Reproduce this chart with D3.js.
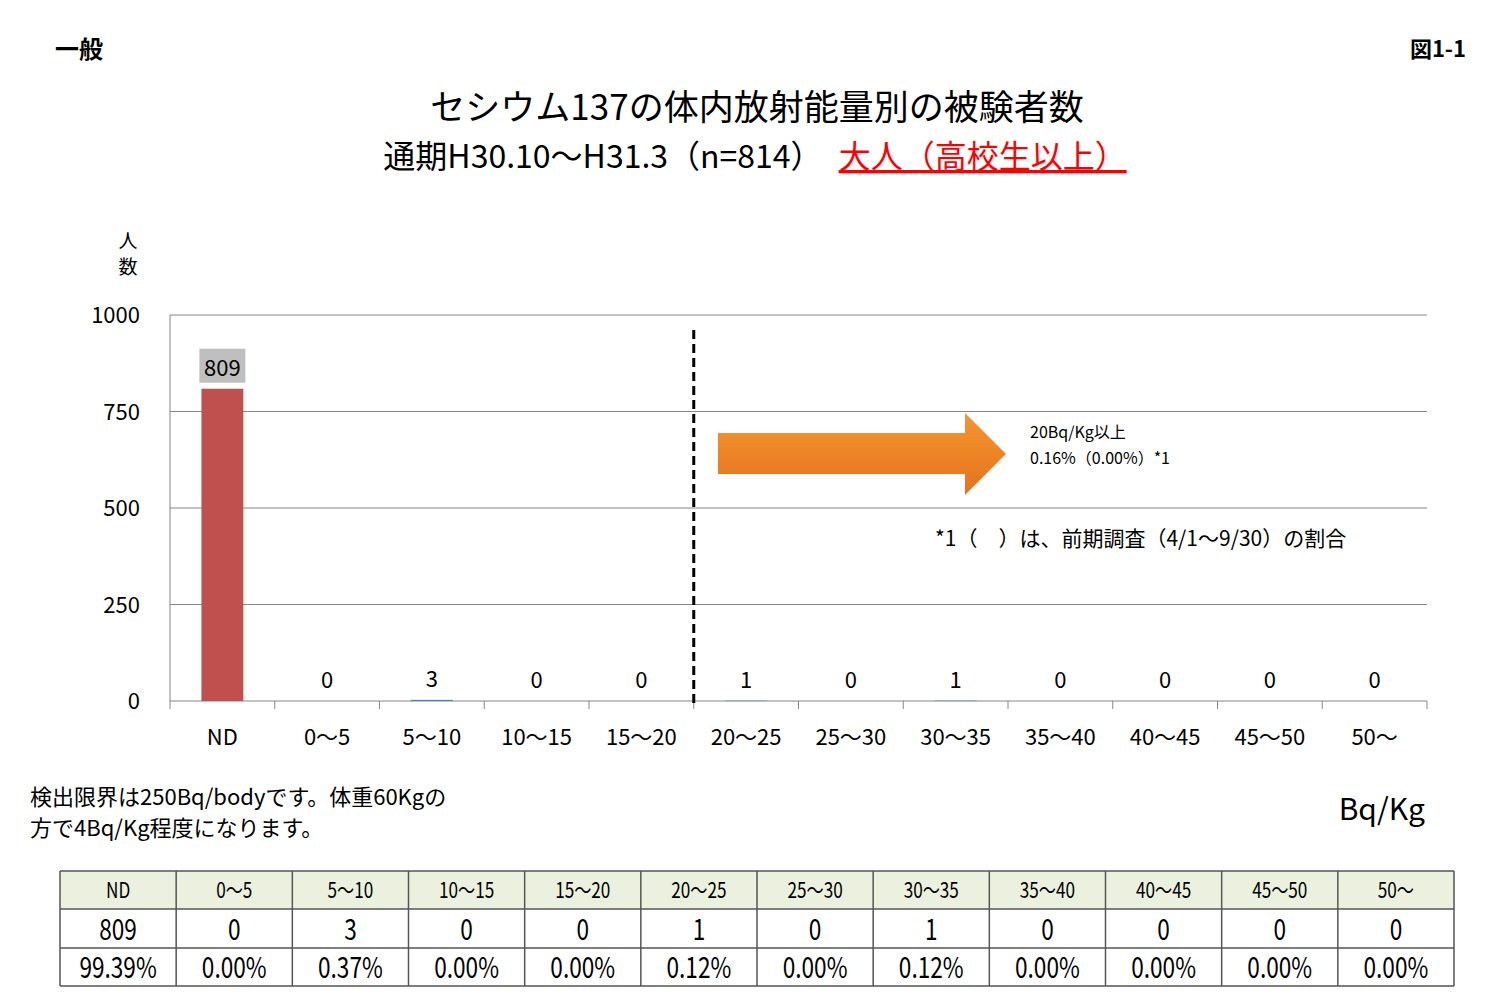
<!DOCTYPE html>
<html><head><meta charset="utf-8">
<script src="https://cdn.jsdelivr.net/npm/d3@7"></script>
<style>body{margin:0;background:#fff}svg text{font-family:"Noto Sans CJK JP","Noto Sans",sans-serif}</style>
</head><body><svg id="c" width="1512" height="1008"></svg>
<script>
const categories=["ND","0〜5","5〜10","10〜15","15〜20","20〜25","25〜30","30〜35","35〜40","40〜45","45〜50","50〜"];
const counts=[809,0,3,0,0,1,0,1,0,0,0,0];
const percents=["99.39%","0.00%","0.37%","0.00%","0.00%","0.12%","0.00%","0.12%","0.00%","0.00%","0.00%","0.00%"];
const yTicks=[0,250,500,750,1000];
const barColors=["#c0504d","#4f81bd","#4f81bd","#4f81bd","#4f81bd","#4f81bd","#4f81bd","#4f81bd","#4f81bd","#4f81bd","#4f81bd","#4f81bd"];

const svg=d3.select("#c");
const L=170,R=1427,T=315,B=701;
const x=d3.scaleBand().domain(categories).range([L,R]).paddingInner(0.6).paddingOuter(0.3);
const xb=d3.scaleBand().domain(categories).range([L,R]);
const y=d3.scaleLinear().domain([0,1000]).range([B,T]);

const t=(xx,yy,s,o={})=>svg.append("text").attr("x",xx).attr("y",yy).text(s)
  .attr("font-size",o.fs||22).attr("text-anchor",o.a||"middle").attr("fill",o.c||"#000").attr("font-weight",o.w||"normal");

t(55,58,"一般",{a:"start",fs:24,w:"bold"});
t(1466,57,"図1-1",{a:"end",fs:22,w:"bold"});
t(757,120,"セシウム137の体内放射能量別の被験者数",{fs:35});
const st=svg.append("text").attr("x",755).attr("y",168).attr("text-anchor","middle").attr("font-size",32);
st.append("tspan").text("通期H30.10〜H31.3（n=814）　");
st.append("tspan").text("大人（高校生以上）").attr("fill","#ff0000").attr("text-decoration","underline");
t(128,248,"人",{fs:19});t(128,274,"数",{fs:19});

svg.append("g").selectAll("line").data(yTicks).join("line")
 .attr("x1",L).attr("x2",R).attr("y1",d=>y(d)).attr("y2",d=>y(d)).attr("stroke","#868686").attr("stroke-width",1);
svg.append("line").attr("x1",L).attr("x2",L).attr("y1",T).attr("y2",B).attr("stroke","#868686");
svg.append("g").selectAll("text").data(yTicks).join("text").attr("x",140).attr("y",d=>y(d)+8)
 .attr("text-anchor","end").attr("font-size",22).text(d=>d);
svg.append("g").selectAll("line").data(categories.concat(["end"])).join("line")
 .attr("x1",(d,i)=>L+i*xb.step()).attr("x2",(d,i)=>L+i*xb.step()).attr("y1",B).attr("y2",B+8).attr("stroke","#868686");
svg.append("g").selectAll("text").data(categories).join("text").attr("x",d=>xb(d)+xb.bandwidth()/2).attr("y",745)
 .attr("text-anchor","middle").attr("font-size",22).text(d=>d);

svg.append("g").selectAll("rect").data(counts).join("rect")
 .attr("x",(d,i)=>x(categories[i])).attr("width",x.bandwidth())
 .attr("y",d=>y(d)).attr("height",d=>B-y(d)).attr("fill",(d,i)=>barColors[i]);
counts.forEach((d,i)=>{
  const cx=x(categories[i])+x.bandwidth()/2;
  if(i===0){svg.append("rect").attr("x",cx-23).attr("y",y(d)-40).attr("width",46).attr("height",34).attr("fill","#bfbfbf");}
  t(cx,y(d)-13,d,{fs:22});
});

svg.append("line").attr("x1",L+5*xb.step()).attr("x2",L+5*xb.step()).attr("y1",330).attr("y2",706)
 .attr("stroke","#000").attr("stroke-width",3).attr("stroke-dasharray","9,5");

const g=svg.append("defs").append("linearGradient").attr("id","og").attr("x1",0).attr("x2",0).attr("y1",0).attr("y2",1);
g.append("stop").attr("offset","0").attr("stop-color","#f7962f");
g.append("stop").attr("offset","1").attr("stop-color","#e3731c");
svg.append("path").attr("d","M718,433 L965,433 L965,413 L1006,454 L965,495 L965,474 L718,474 Z").attr("fill","url(#og)");
t(1030,438,"20Bq/Kg以上",{a:"start",fs:16});
t(1030,464,"0.16%（0.00%）*1",{a:"start",fs:16});
t(935,546,"*1（　）は、前期調査（4/1〜9/30）の割合",{a:"start",fs:21});

t(30,805,"検出限界は250Bq/bodyです。体重60Kgの",{a:"start",fs:22});
t(30,836,"方で4Bq/Kg程度になります。",{a:"start",fs:22});
t(1425,820,"Bq/Kg",{a:"end",fs:30});

const TL=60,TR=1454,cw=(TR-TL)/categories.length,rows=[871,909,948,986];
svg.append("rect").attr("x",TL).attr("y",rows[0]).attr("width",TR-TL).attr("height",rows[1]-rows[0]).attr("fill","#ebf1de");
rows.forEach(r=>svg.append("line").attr("x1",TL).attr("x2",TR).attr("y1",r).attr("y2",r).attr("stroke","#555").attr("stroke-width",1.5));
d3.range(categories.length+1).forEach(i=>svg.append("line").attr("x1",TL+i*cw).attr("x2",TL+i*cw).attr("y1",rows[0]).attr("y2",rows[3]).attr("stroke","#555").attr("stroke-width",1.5));
const nt=(cx,yy,s,fs)=>svg.append("text").attr("transform",`translate(${cx},${yy}) scale(0.78,1)`)
  .attr("text-anchor","middle").attr("font-size",fs).text(s);
categories.forEach((c,i)=>{
  const cx=TL+(i+0.5)*cw;
  nt(cx,898,c,22);
  nt(cx,940,counts[i],29);
  nt(cx,978,percents[i],29);
});
</script></body></html>
